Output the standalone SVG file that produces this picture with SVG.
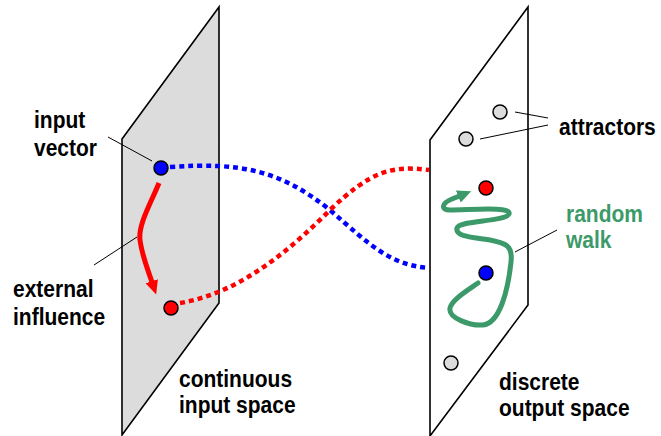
<svg xmlns="http://www.w3.org/2000/svg" width="661" height="436" viewBox="0 0 661 436">
<defs>
<style>
.plane{stroke:#000;stroke-width:1.6;stroke-linejoin:miter}
.lead{stroke:#000;stroke-width:1;fill:none}
.node{stroke:#000;stroke-width:1.5}
.lbl{font-family:"Liberation Sans",Arial,sans-serif;font-weight:bold;font-size:21px;fill:#000}
.grn{fill:#3c9a6a}
.dot{fill:none;stroke-width:4.5;stroke-dasharray:5 4}
</style>
<marker id="redHead" markerWidth="16" markerHeight="16" refX="4" refY="8" orient="auto" markerUnits="userSpaceOnUse"><path d="M0,1.5 L14,8 L0,14.5 Z" fill="#ff0000"/></marker>
<marker id="grnHead" markerWidth="16" markerHeight="16" refX="4" refY="8" orient="auto" markerUnits="userSpaceOnUse"><path d="M0,1.5 L14,8 L0,14.5 Z" fill="#3c9a6a"/></marker>
</defs>
<g id="input-plane"><polygon class="plane" points="122,139 219,7 219,303 122,435" fill="#dcdcdc"/></g>
<g id="output-plane"><polygon class="plane" points="430,140 528,7 528,305 430,436" fill="#fff"/></g>
<g id="connectors">
<path class="dot" stroke="#0000ff" d="M170,167 C240,162 280,170 330,210 C370,245 390,265 429,268"/>
<path class="dot" stroke="#ff0000" d="M180,303 C240,293 290,250 330,210 C370,172 390,165 429,170"/>
<path d="M159,183 C150,205 138,225 140,240 C142,256 148,270 153,285" fill="none" stroke="#ff0000" stroke-width="5" marker-end="url(#redHead)"/>
<path d="M478,283 C465,292 452,300 450,308 C448,318 470,326 483,325 C500,323 508,290 511,262 C513,245 505,243 490,240 C470,237 455,236 457,228 C460,220 505,222 509,214 C512,206 470,210 450,210 C440,210 442,203 452,199 L462,195" fill="none" stroke="#3c9a6a" stroke-width="5" stroke-linecap="round" marker-end="url(#grnHead)"/>
<line class="lead" x1="108" y1="137" x2="152" y2="161"/>
<line class="lead" x1="94" y1="265" x2="137" y2="237"/>
<line class="lead" x1="515" y1="112" x2="548" y2="118"/>
<line class="lead" x1="480" y1="139" x2="548" y2="125"/>
<line class="lead" x1="515" y1="252" x2="557" y2="230"/>
</g>
<g id="input-vector"><circle class="node" cx="161" cy="168" r="7" fill="#0000ff"/></g>
<g id="influenced-input"><circle class="node" cx="171" cy="308" r="7" fill="#ff0000"/></g>
<g id="output-red"><circle class="node" cx="486" cy="188" r="7" fill="#ff0000"/></g>
<g id="output-blue"><circle class="node" cx="486" cy="273" r="7" fill="#0000ff"/></g>
<g id="attractor-1"><circle class="node" cx="500" cy="112" r="7" fill="#dcdcdc"/></g>
<g id="attractor-2"><circle class="node" cx="466" cy="139" r="7" fill="#dcdcdc"/></g>
<g id="attractor-3"><circle class="node" cx="451" cy="363" r="7" fill="#dcdcdc"/></g>
<g id="labels">
<text class="lbl" transform="matrix(1,0,0,1.15,34,128)">input</text>
<text class="lbl" transform="matrix(1,0,0,1.15,34,156)">vector</text>
<text class="lbl" transform="matrix(1,0,0,1.15,13,297)">external</text>
<text class="lbl" transform="matrix(1,0,0,1.15,13,325)">influence</text>
<text class="lbl" transform="matrix(1,0,0,1.15,559,135)">attractors</text>
<text class="lbl grn" transform="matrix(1,0,0,1.15,566,222)">random</text>
<text class="lbl grn" transform="matrix(1,0,0,1.15,566,248)">walk</text>
<text class="lbl" transform="matrix(1,0,0,1.15,179,387)">continuous</text>
<text class="lbl" transform="matrix(1,0,0,1.15,179,413)">input space</text>
<text class="lbl" transform="matrix(1,0,0,1.15,499,390)">discrete</text>
<text class="lbl" transform="matrix(1,0,0,1.15,499,416)">output space</text>
</g>
</svg>
